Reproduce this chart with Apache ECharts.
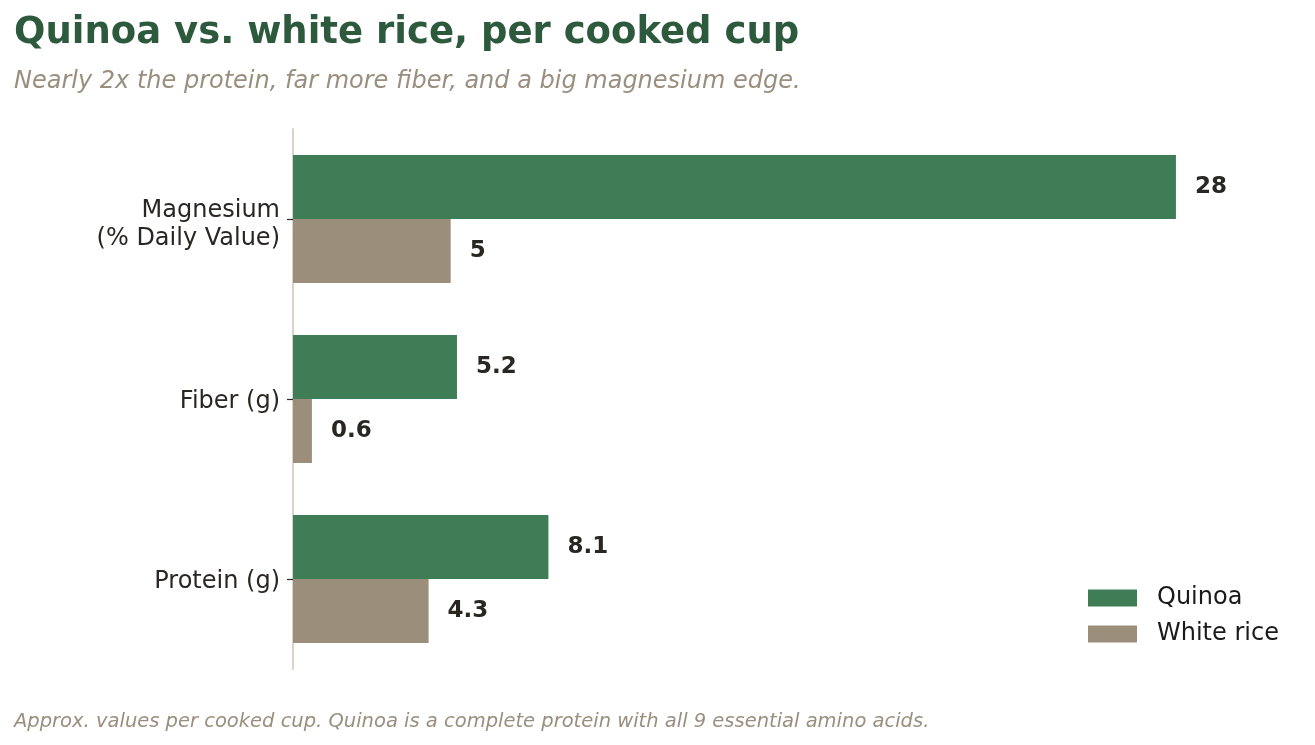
<!DOCTYPE html>
<html><head><meta charset="utf-8">
<script src="https://cdn.jsdelivr.net/npm/echarts@6/dist/echarts.min.js"></script>
<style>html,body{margin:0;padding:0;background:#fff}#c{width:1315px;height:745px}</style>
</head><body><div id="c"></div>
<script>
const categories = ['Protein (g)', 'Fiber (g)', 'Magnesium\n(% Daily Value)'];
const quinoa = [8.1, 5.2, 28];
const whiteRice = [4.3, 0.6, 5];
const seriesNames = ['Quinoa', 'White rice'];

const chart = echarts.init(document.getElementById('c'));
const font = 'DejaVu Sans';
const labelStyle = {show: true, position: 'right', distance: 19, fontFamily: font, fontSize: 23, fontWeight: 'bold', color: '#2a2622', padding: [4, 0, 0, 0]};
chart.setOption({
  animation: false,
  title: [
    {text: 'Quinoa vs. white rice, per cooked cup', left: 9, top: 10, padding: 5,
     textStyle: {fontFamily: font, fontSize: 37, fontWeight: 'bold', color: '#2d5a3d'}},
    {text: 'Nearly 2x the protein, far more fiber, and a big magnesium edge.', left: 9, top: 65,
     textStyle: {fontFamily: font, fontSize: 24, fontStyle: 'italic', fontWeight: 'normal', color: '#9a8f7e'}},
    {text: 'Approx. values per cooked cup. Quinoa is a complete protein with all 9 essential amino acids.', left: 9, top: 707,
     textStyle: {fontFamily: font, fontSize: 19.5, fontStyle: 'italic', fontWeight: 'normal', color: '#9a8f7e'}}
  ],
  legend: {
    orient: 'vertical', left: 1088, top: 586, padding: 0, itemWidth: 49, itemHeight: 17, itemGap: 12,
    icon: 'rect',
    textStyle: {fontFamily: font, fontSize: 24, color: '#1a1a1a', padding: [0, 0, 0, 15]},
    data: seriesNames
  },
  grid: {left: 293, right: 76, top: 129, bottom: 76, containLabel: false},
  xAxis: {type: 'value', min: 0, max: 30, show: false, splitLine: {show: false}},
  yAxis: {
    type: 'category', data: categories,
    axisLine: {show: true, lineStyle: {color: '#d8cfc0', width: 1.8}},
    axisTick: {show: true, alignWithLabel: true, length: 6, lineStyle: {color: '#2a2622', width: 1.2}},
    axisLabel: {fontFamily: font, fontSize: 24, color: '#2a2622', margin: 13, lineHeight: 28, align: 'right',
      formatter: function (v) { return v.indexOf('\n') >= 0 ? '{m|' + v.replace('\n', '}\n{m|') + '}' : '{s|' + v + '}'; },
      rich: {
        m: {fontFamily: font, fontSize: 24, color: '#2a2622', lineHeight: 28, padding: [12, 0, 0, 0]},
        s: {fontFamily: font, fontSize: 24, color: '#2a2622', lineHeight: 28, padding: [6, 0, 0, 0]}
      }}
  },
  series: [
    {name: seriesNames[0], type: 'bar', data: quinoa, barGap: '0%', barCategoryGap: '28.9%',
     itemStyle: {color: '#3e7d56'}, label: labelStyle},
    {name: seriesNames[1], type: 'bar', data: whiteRice, barGap: '0%', barCategoryGap: '28.9%',
     itemStyle: {color: '#9b8f7c'}, label: labelStyle}
  ]
});
</script></body></html>
